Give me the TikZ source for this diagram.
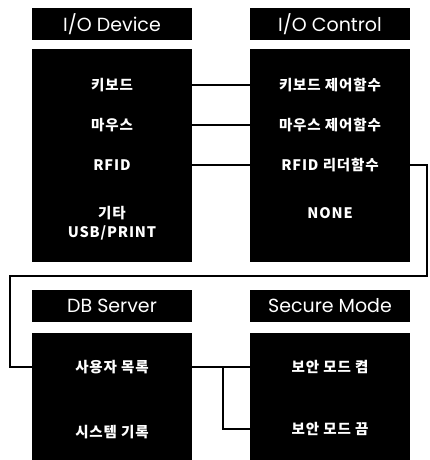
\documentclass[tikz,border=0pt]{standalone}
\usepackage{fontspec}
\usepackage{tikz}
\usetikzlibrary{positioning}
\setmainfont{Poppins}
\newfontfamily\kor{Noto Sans CJK KR}[LetterSpace=6]

\begin{document}
\begin{tikzpicture}[
    x=1pt, y=-1pt,
    head/.style={
      rectangle, fill=black, text=white, minimum width=160pt,
      minimum height=32pt, inner sep=0pt, font=\fontsize{19}{19}\selectfont
    },
    panel/.style={rectangle, fill=black, minimum width=160pt, inner sep=0pt},
    item/.style={text=white, align=center, inner sep=1pt,
      font=\kor\bfseries\fontsize{14.5}{19}\selectfont},
    link/.style={line width=1.3pt, line cap=rect}
  ]
    \useasboundingbox (0,0) rectangle (429,460);

    % I/O device
    \node[head] (devhead) at (112,24) {I/O Device};
    \node[panel, minimum height=213pt] (devbody) at (112,155.5) {};
    \node[item] (kbd) at (112,85) {키보드};
    \node[item] (mouse) at (112,125) {마우스};
    \node[item] (rfid) at (112,165) {RFID};
    \node[item] (etc) at (112,223) {기타\\USB/PRINT};

    % I/O control
    \node[head] (ctlhead) at (330,24) {I/O Control};
    \node[panel, minimum height=213pt] (ctlbody) at (330,155.5) {};
    \node[item] (kbdctl) at (330,85) {키보드 제어함수};
    \node[item] (mousectl) at (330,125) {마우스 제어함수};
    \node[item] (rfidctl) at (330,165) {RFID 리더함수};
    \node[item] (none) at (330,213) {NONE};

    % DB server
    \node[head] (dbhead) at (112,306) {DB Server};
    \node[panel, minimum height=128pt] (dbbody) at (112,397) {};
    \node[item] (user) at (112,367) {사용자 목록};
    \node[item] (syslog) at (112,432) {시스템 기록};

    % secure mode
    \node[head] (sechead) at (330,306) {Secure Mode};
    \node[panel, minimum height=128pt] (secbody) at (330,397) {};
    \node[item] (secon) at (330,367) {보안 모드 켬};
    \node[item] (secoff) at (330,429) {보안 모드 끔};

    \coordinate (wrapR) at (427,276);
    \coordinate (wrapL) at (10,276);
    \coordinate (fork) at (223,367);

    \draw[link] (kbd -| devbody.east) -- (kbdctl -| ctlbody.west);
    \draw[link] (mouse -| devbody.east) -- (mousectl -| ctlbody.west);
    \draw[link] (rfid -| devbody.east) -- (rfidctl -| ctlbody.west);
    \draw[link] (rfidctl -| ctlbody.east) -| (wrapR) -- (wrapL) |- (user -| dbbody.west);
    \draw[link] (user -| dbbody.east) -- (secon -| secbody.west);
    \draw[link] (fork) |- (secoff -| secbody.west);
  \end{tikzpicture}
\end{document}
